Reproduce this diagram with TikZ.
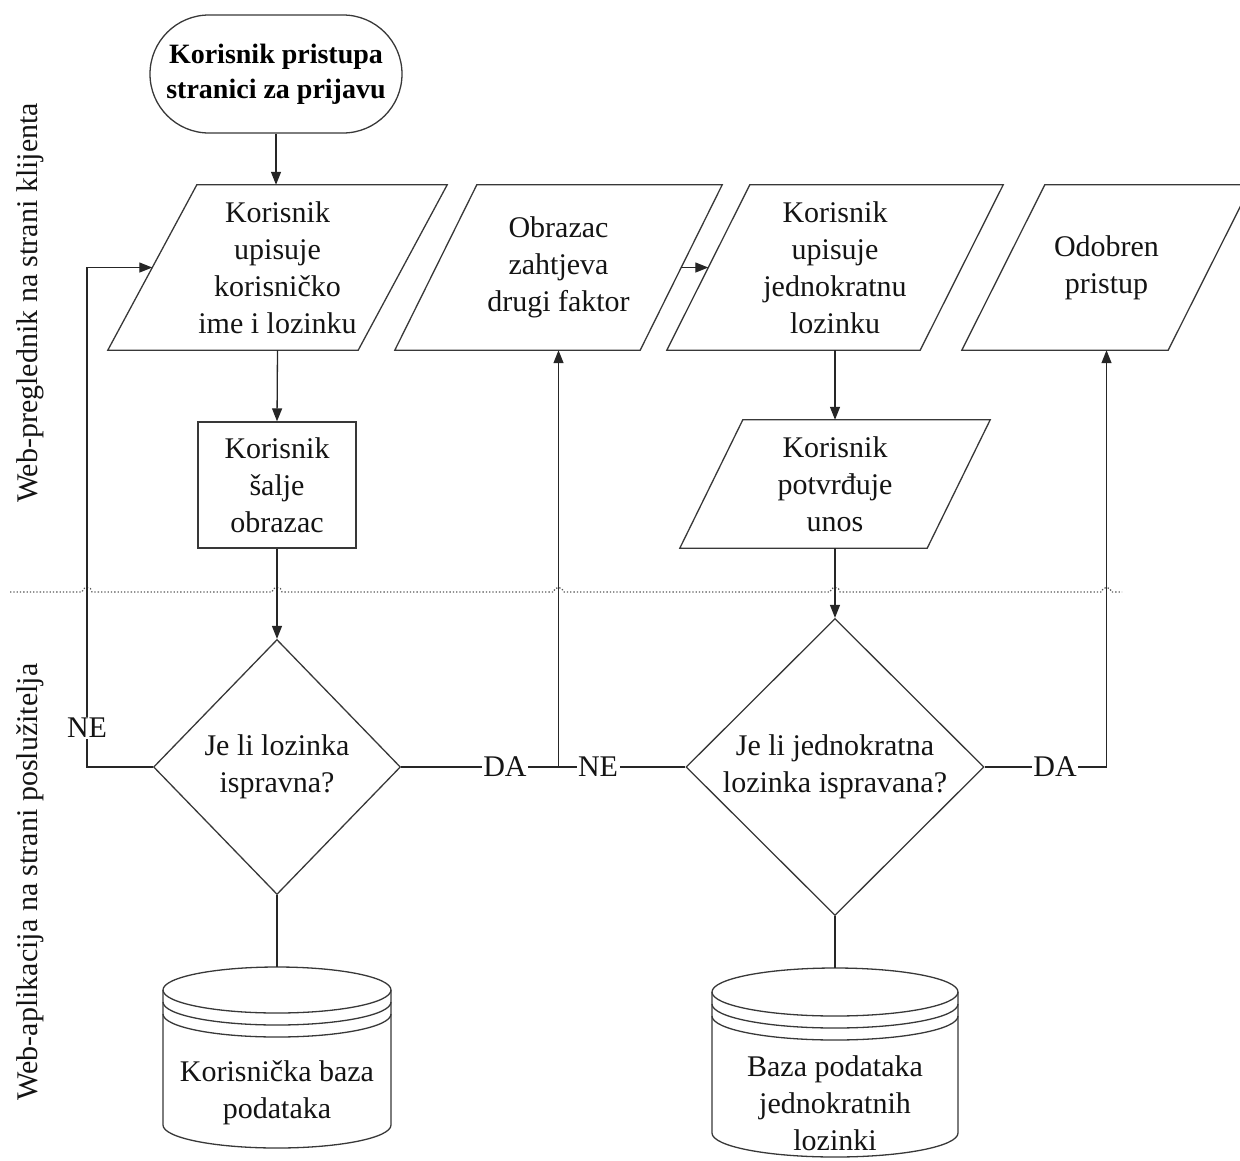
\documentclass[tikz,border=0pt]{standalone}
\usepackage{fontspec}
\setmainfont{Liberation Serif}
\usetikzlibrary{arrows.meta,shapes.geometric,shapes.misc}
\newcommand\mypara[7]{%
  \node[txt, inner sep=0pt, minimum width=#4, minimum height=#5] (#1) at (#2,#3) {#7};
  \draw[shapeb] ([xshift=-#6pt]#1.south west) -- ([xshift=-#6pt]#1.south east)
     -- ([xshift=#6pt]#1.north east) -- ([xshift=#6pt]#1.north west) -- cycle;}
\newcommand\mydb[6]{% cx, yt, rx, ry, yb, gap
  \draw[shapeb, fill=white] (#1-#3,#2) -- (#1-#3,#5) arc[start angle=180, end angle=360, x radius=#3pt, y radius=#4pt]
     -- (#1+#3,#2);
  \draw[shapeb] (#1,#2) ellipse [x radius=#3pt, y radius=#4pt];
  \draw[shapeb] (#1-#3,#2+#6) arc[start angle=180, end angle=360, x radius=#3pt, y radius=#4pt];
  \draw[shapeb] (#1-#3,#2+2*#6) arc[start angle=180, end angle=360, x radius=#3pt, y radius=#4pt];}
\begin{document}
\begin{tikzpicture}[x=1pt,y=-1pt,
  shapeb/.style={draw=black!78, line width=1.3pt},
  txt/.style={font=\fontsize{30}{37}\selectfont, align=center, text=black!92},
  lab/.style={font=\fontsize{30}{37}\selectfont, fill=white, inner sep=1.5pt, text=black!92},
  arr/.style={draw=black!85, line width=1.3pt, -{Triangle[length=13pt,width=10pt]}},
  ln/.style={draw=black!85, line width=1.3pt},
  sep/.style={draw=black!65, line width=1.3pt, dotted}]
\useasboundingbox (0,0) rectangle (1240,1160);

% separator
\draw[sep] (10,592) -- (82,592) .. controls (82,586) and (92,586) .. (92,592)
 -- (272,592) .. controls (272,586) and (282,586) .. (282,592)
 -- (553.5,592) .. controls (553.5,586) and (563.5,586) .. (563.5,592)
 -- (830,592) .. controls (830,586) and (840,586) .. (840,592)
 -- (1101.5,592) .. controls (1101.5,586) and (1111.5,586) .. (1111.5,592)
 -- (1122,592);

% lane labels
\node[txt, rotate=90] (lane1) at (30,303) {Web-preglednik na strani klijenta};
\node[txt, rotate=90] (lane2) at (30,882) {Web-aplikacija na strani poslužitelja};

% start
\node[rounded rectangle, shapeb, minimum width=252, minimum height=118, inner sep=0pt,
      align=center, font=\fontsize{28}{35}\selectfont\bfseries] (start) at (276,74)
      {Korisnik pristupa\\stranici za prijavu};

% parallelograms
\mypara{p1}{277.5}{267.5}{250}{165}{44.5}{Korisnik\\upisuje\\korisničko\\ime i lozinku}
\mypara{p2}{558.5}{267.5}{245}{165}{41}{Obrazac\\zahtjeva\\drugi faktor}
\mypara{p3}{835}{267.5}{253}{165}{41.5}{Korisnik\\upisuje\\jednokratnu\\lozinku}
\mypara{p4}{1106.5}{267.5}{206}{165}{41.5}{Odobren\\pristup}
\mypara{p5}{835}{484}{247}{128}{31.5}{Korisnik\\potvrđuje\\unos}

% process box
\node[txt, shapeb, inner sep=0pt, minimum width=158, minimum height=126] (rect) at (277,485)
  {Korisnik\\šalje\\obrazac};

% decisions
\node[diamond, shapeb, minimum width=247, minimum height=255, inner sep=0pt] (d1) at (277,767) {};
\node[txt] (d1t) at (d1) {Je li lozinka\\ispravna?};
\node[diamond, shapeb, minimum width=298, minimum height=297, inner sep=0pt] (d2) at (835,767) {};
\node[txt] (d2t) at (d2) {Je li jednokratna\\lozinka ispravana?};

% databases
\mydb{277}{990}{114}{23}{1125}{12}
\coordinate (db1) at (277,967);
\node[txt] (db1t) at (277,1093) {Korisnička baza\\podataka};
\mydb{835}{992}{123}{24}{1133}{12}
\coordinate (db2) at (835,968);
\node[txt] (db2t) at (835,1103) {Baza podataka\\jednokratnih\\lozinki};

% junctions
\coordinate (ne1c) at (87,767);
\coordinate (j1) at (p2.center |- d1.east);
\coordinate (j2) at (p4.center |- d2.east);

% connectors
\draw[arr] (start.south) -- (start.south |- p1.north);
\draw[arr] (p1.south) -- (rect.north);
\draw[arr] (rect.south) -- (d1.north);
\draw[arr] (d1.west) -- (ne1c) |- (p1.west);
\draw[ln] (d1.east) -- (j1);
\draw[ln] (d2.west) -- (j1);
\draw[arr] (j1) -- (p2.south);
\draw[arr] (p2.east) -- (p3.west);
\draw[arr] (p3.south) -- (p5.north);
\draw[arr] (p5.south) -- (d2.north);
\draw[ln] (d2.east) -- (j2);
\draw[arr] (j2) -- (p4.south);
\draw[ln] (d1.south) -- (db1);
\draw[ln] (d2.south) -- (db2);

% labels
\node[lab] (lne1) at (87,728) {NE};
\node[lab] (lda1) at (505,767) {DA};
\node[lab] (lne2) at (598,767) {NE};
\node[lab] (lda2) at (1055,767) {DA};
\end{tikzpicture}
\end{document}
